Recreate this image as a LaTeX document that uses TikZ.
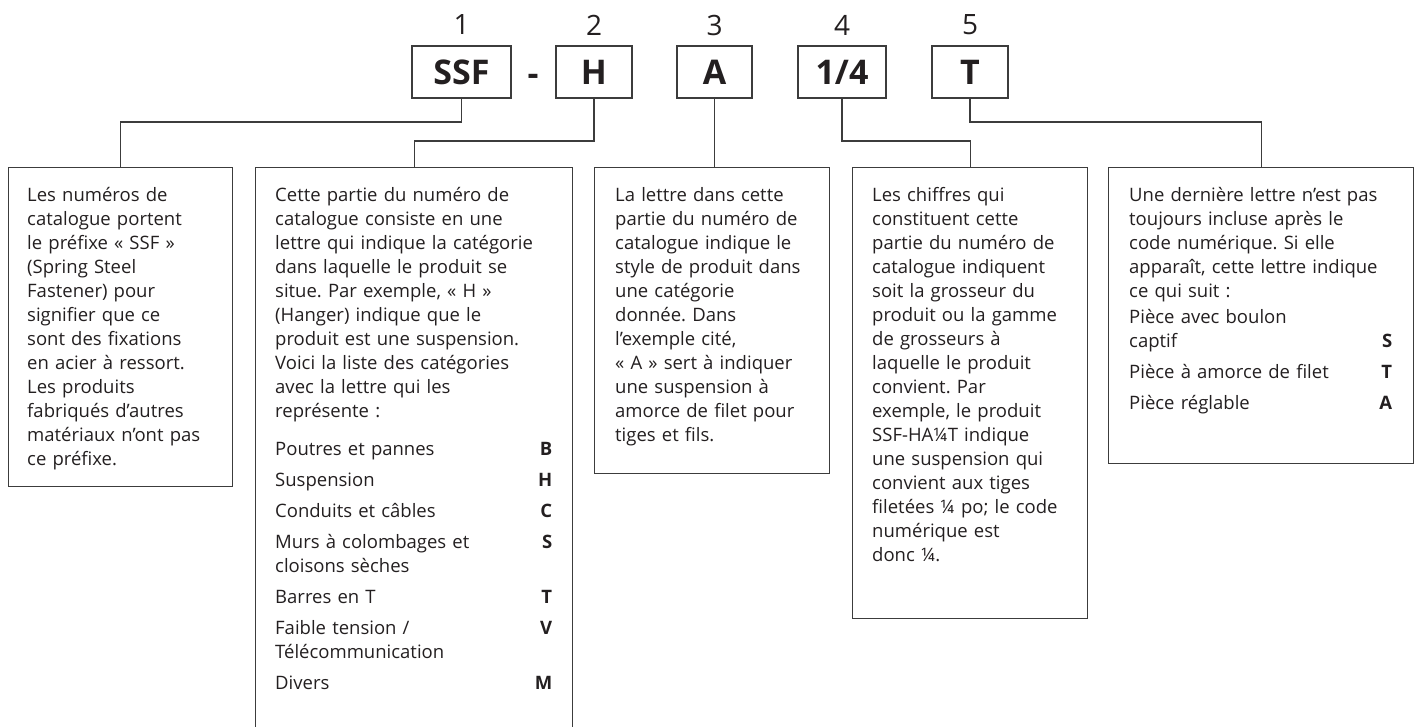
\documentclass[tikz,border=0pt]{standalone}
\usepackage{fontspec}
\setmainfont{Open Sans}
\usetikzlibrary{positioning,calc}
\definecolor{ink}{HTML}{231F20}
\definecolor{rulegray}{HTML}{3C3C3C}
\newcommand{\catrow}[3]{\makebox[#1][l]{#2\hfill\textbf{#3}}}
\frenchspacing

\begin{document}
\begin{tikzpicture}[x=1pt, y=-1pt,
  codebox/.style={draw=rulegray, line width=1.2pt, minimum height=52pt, inner sep=0pt,
    text=ink, font=\fontsize{34}{34}\selectfont\bfseries},
  digit/.style={text=ink, font=\fontsize{28}{28}\selectfont},
  descbox/.style={draw=rulegray, line width=1.2pt, anchor=north west, inner sep=0pt},
  desctext/.style={anchor=north west, inner sep=0pt, align=left, text=ink,
    font=\fontsize{18.5}{24}\selectfont},
  link/.style={draw=rulegray, line width=1.2pt}]
\useasboundingbox (0,0) rectangle (1422,726);
\clip (0,0) rectangle (1422,726);

% catalogue number parts
\foreach \n/\x/\w/\t/\d in {ssf/461.5/99/SSF/1, h/594/76/H/2, a/714.5/75/A/3,
                            frac/842/88/{1/4}/4, t/970/76/T/5} {
  \node[codebox, minimum width=\w pt] (\n) at (\x,72) {\t};
  \node[digit] (num\d) at (\x,25) {\d};
}
\node[text=ink, font=\fontsize{34}{34}\selectfont\bfseries] (dash) at (533,80) {-};

% description boxes
\node[descbox, minimum width=224pt, minimum height=319pt] (desc1) at (8,167) {};
\node[descbox, minimum width=317pt, minimum height=620pt] (desc2) at (255,167) {};
\node[descbox, minimum width=235pt, minimum height=306pt] (desc3) at (594,167) {};
\node[descbox, minimum width=235pt, minimum height=451pt] (desc4) at (852,167) {};
\node[descbox, minimum width=305pt, minimum height=296pt] (desc5) at (1108,167) {};

% bend levels of the connectors
\coordinate (lvlA) at (0,122);
\coordinate (lvlB) at (0,141);

\draw[link] (ssf.south) -- (ssf.south |- lvlA) -| (desc1.north);
\draw[link] (h.south) -- (h.south |- lvlB) -| (desc2.north);
\draw[link] (a.south) -- (a.south |- desc3.north);
\draw[link] (frac.south) -- (frac.south |- lvlB) -| (desc4.north);
\draw[link] (t.south) -- (t.south |- lvlA) -| (desc5.north);

% texts
\node[desctext, text width=200pt] (txt1) at ($(desc1.north west)+(19,17)$) {\strut
  Les numéros de\\ catalogue portent\\ le préfixe «~SSF~»\\ (Spring Steel\\
  Fastener) pour\\ signifier que ce\\ sont des fixations\\ en acier à ressort.\\
  Les produits\\ fabriqués d’autres\\ matériaux n’ont pas\\ ce préfixe.};

\node[desctext, text width=290pt] (txt2) at ($(desc2.north west)+(20,17)$) {\strut
  Cette partie du numéro de\\ catalogue consiste en une\\ lettre qui indique la catégorie\\
  dans laquelle le produit se\\ situe. Par exemple, «~H~»\\ (Hanger) indique que le\\
  produit est une suspension.\\ Voici la liste des catégories\\ avec la lettre qui les\\
  représente~:\\[14pt]
  \catrow{277pt}{Poutres et pannes}{B}\\[7pt]
  \catrow{277pt}{Suspension}{H}\\[7pt]
  \catrow{277pt}{Conduits et câbles}{C}\\[7pt]
  \catrow{277pt}{Murs à colombages et}{S}\\ cloisons sèches\\[7pt]
  \catrow{277pt}{Barres en T}{T}\\[7pt]
  \catrow{277pt}{Faible tension /}{V}\\ Télécommunication\\[7pt]
  \catrow{277pt}{Divers}{M}};

\node[desctext, text width=210pt] (txt3) at ($(desc3.north west)+(21,17)$) {\strut
  La lettre dans cette\\ partie du numéro de\\ catalogue indique le\\ style de produit dans\\
  une catégorie\\ donnée. Dans\\ l’exemple cité,\\ «~A~» sert à indiquer\\
  une suspension à\\ amorce de filet pour\\ tiges et fils.};

\node[desctext, text width=210pt] (txt4) at ($(desc4.north west)+(20,17)$) {\strut
  Les chiffres qui\\ constituent cette\\ partie du numéro de\\ catalogue indiquent\\
  soit la grosseur du\\ produit ou la gamme\\ de grosseurs à\\ laquelle le produit\\
  convient. Par\\ exemple, le produit\\ SSF-HA¼T indique\\ une suspension qui\\
  convient aux tiges\\ filetées ¼ po; le code\\ numérique est\\ donc ¼.};

\node[desctext, text width=280pt] (txt5) at ($(desc5.north west)+(21,17)$) {\strut
  Une dernière lettre n’est pas\\ toujours incluse après le\\ code numérique. Si elle\\
  apparaît, cette lettre indique\\ ce qui suit~:\\[2pt]
  Pièce avec boulon\\
  \catrow{263pt}{captif}{S}\\[7pt]
  \catrow{263pt}{Pièce à amorce de filet}{T}\\[7pt]
  \catrow{263pt}{Pièce réglable}{A}};
\end{tikzpicture}
\end{document}
